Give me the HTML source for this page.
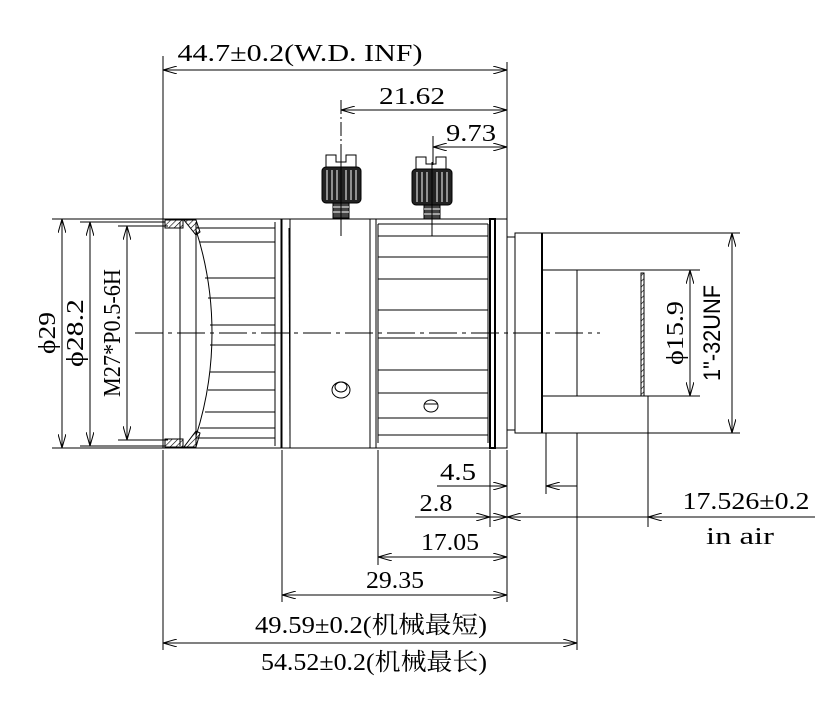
<!DOCTYPE html>
<html><head><meta charset="utf-8"><style>
html,body{margin:0;padding:0;background:#fff;}
svg{display:block;}
text{font-family:"Liberation Serif","Noto Serif CJK SC",serif;font-size:24px;fill:#000;}
</style></head><body>
<svg width="838" height="727" viewBox="0 0 838 727" xmlns="http://www.w3.org/2000/svg">
<defs>
<marker id="a" viewBox="0 0 14 8" refX="14" refY="4" markerWidth="14" markerHeight="8" orient="auto-start-reverse" markerUnits="userSpaceOnUse">
<path d="M0,0 L14,4 L0,8" fill="none" stroke="#000" stroke-width="1"/>
</marker>
<pattern id="h" width="4" height="4" patternUnits="userSpaceOnUse" patternTransform="rotate(45)">
<line x1="0" y1="0" x2="0" y2="4" stroke="#000" stroke-width="1.2"/>
</pattern>
</defs>
<g stroke="#000" stroke-width="1" fill="none">
<!-- top dims -->
<line x1="163" y1="56" x2="163" y2="225"/>
<line x1="507" y1="62" x2="507" y2="230"/>
<line x1="163" y1="70" x2="507" y2="70" marker-start="url(#a)" marker-end="url(#a)"/>
<line x1="341" y1="100" x2="341" y2="150" stroke-dasharray="14,3,2,3"/>
<line x1="341" y1="110" x2="507" y2="110" marker-start="url(#a)" marker-end="url(#a)"/>
<line x1="433" y1="136" x2="433" y2="165"/>
<line x1="433" y1="147" x2="507" y2="147" marker-start="url(#a)" marker-end="url(#a)"/>

<!-- left dims -->
<line x1="52" y1="219" x2="165" y2="219"/>
<line x1="52" y1="448" x2="165" y2="448"/>
<line x1="80" y1="222" x2="165" y2="222"/>
<line x1="80" y1="446" x2="165" y2="446"/>
<line x1="118" y1="226" x2="168" y2="226"/>
<line x1="118" y1="440" x2="168" y2="440"/>
<line x1="62" y1="219" x2="62" y2="448" marker-start="url(#a)" marker-end="url(#a)"/>
<line x1="90" y1="222" x2="90" y2="446" marker-start="url(#a)" marker-end="url(#a)"/>
<line x1="127" y1="226" x2="127" y2="440" marker-start="url(#a)" marker-end="url(#a)"/>

<!-- center line -->
<line x1="135" y1="333" x2="600" y2="333" stroke-dasharray="28,5,4,5"/>

<!-- front ring -->
<rect x="163" y="219" width="118" height="229"/>
<line x1="180" y1="222" x2="180" y2="446"/>
<line x1="196" y1="222" x2="196" y2="446"/>
<path d="M196,230 Q212,280 212,333 Q212,386 196,436"/>
<rect x="165" y="220" width="18" height="8" fill="url(#h)"/>
<rect x="165" y="439" width="18" height="8" fill="url(#h)"/>
<path d="M184,220 L196,220 L200,232 L196,235 Z" fill="url(#h)"/>
<path d="M184,447 L196,447 L200,433 L196,431 Z" fill="url(#h)"/>
<g>
<line x1="196" y1="228" x2="275" y2="228"/>
<line x1="200" y1="242" x2="275" y2="242"/>
<line x1="205" y1="278" x2="275" y2="278"/>
<line x1="208" y1="298" x2="275" y2="298"/>
<line x1="210" y1="325" x2="275" y2="325"/>
<line x1="210" y1="345" x2="275" y2="345"/>
<line x1="210" y1="372" x2="275" y2="372"/>
<line x1="208" y1="390" x2="275" y2="390"/>
<line x1="205" y1="412" x2="275" y2="412"/>
<line x1="200" y1="428" x2="275" y2="428"/>
<line x1="196" y1="438" x2="275" y2="438"/>
</g>
<line x1="275" y1="222" x2="275" y2="446"/>
<rect x="282" y="219" width="8" height="229"/>
<line x1="289" y1="228" x2="290" y2="438"/>
<rect x="290" y="219" width="80" height="229"/>
<ellipse cx="341" cy="390" rx="9" ry="8"/>
<ellipse cx="341" cy="387" rx="6" ry="5"/>
<rect x="370" y="219" width="6" height="229"/>
<!-- focus ring -->
<rect x="376" y="219" width="114" height="229"/>
<line x1="378" y1="224" x2="378" y2="443"/>
<line x1="488" y1="224" x2="488" y2="443"/>
<line x1="378" y1="224" x2="488" y2="224"/>
<line x1="378" y1="236" x2="488" y2="236"/>
<line x1="378" y1="257" x2="488" y2="257"/>
<line x1="378" y1="279" x2="488" y2="279"/>
<line x1="378" y1="310" x2="488" y2="310"/>
<line x1="378" y1="338" x2="488" y2="338"/>
<line x1="378" y1="370" x2="488" y2="370"/>
<line x1="378" y1="393" x2="488" y2="393"/>
<line x1="378" y1="418" x2="488" y2="418"/>
<line x1="378" y1="435" x2="488" y2="435"/>
<ellipse cx="431" cy="406" rx="7" ry="6"/>
<line x1="424" y1="404" x2="438" y2="404"/>
<rect x="490" y="219" width="5" height="229" stroke-width="2"/>
<rect x="495" y="219" width="12" height="229"/>
<!-- rear -->
<rect x="507" y="237" width="8" height="193"/>
<rect x="515" y="233" width="27" height="200"/>
<line x1="542" y1="233" x2="542" y2="433" stroke-width="2"/>
<line x1="542" y1="233" x2="740" y2="233"/>
<line x1="515" y1="433" x2="740" y2="433"/>
<line x1="542" y1="270" x2="700" y2="270"/>
<line x1="542" y1="396" x2="700" y2="396"/>
<line x1="577" y1="270" x2="577" y2="396"/>
<rect x="641" y="273" width="3" height="123" fill="url(#h)"/>
<line x1="641" y1="273" x2="641" y2="396"/>
<line x1="690" y1="270" x2="690" y2="396" marker-start="url(#a)" marker-end="url(#a)"/>
<line x1="732" y1="233" x2="732" y2="433" marker-start="url(#a)" marker-end="url(#a)"/>
<!-- screws -->
<path d="M326,167 V155 H336 V162 H346 V155 H356 V167"/>
<rect x="322" y="167" width="39" height="36" rx="4" fill="#222"/>
<rect x="333" y="203" width="16" height="15" fill="#444"/>
<path d="M416,169 V157 H426 V164 H436 V157 H446 V169"/>
<rect x="412" y="169" width="40" height="36" rx="4" fill="#222"/>
<rect x="424" y="205" width="16" height="14" fill="#444"/>
<g stroke="#fff" stroke-width="1">
<line x1="327" y1="170" x2="327" y2="200"/><line x1="332" y1="170" x2="332" y2="200"/><line x1="337" y1="170" x2="337" y2="200"/><line x1="346" y1="170" x2="346" y2="200"/><line x1="351" y1="170" x2="351" y2="200"/><line x1="356" y1="170" x2="356" y2="200"/>
<line x1="417" y1="172" x2="417" y2="202"/><line x1="422" y1="172" x2="422" y2="202"/><line x1="427" y1="172" x2="427" y2="202"/><line x1="437" y1="172" x2="437" y2="202"/><line x1="442" y1="172" x2="442" y2="202"/><line x1="447" y1="172" x2="447" y2="202"/>
<line x1="333" y1="207" x2="349" y2="207"/><line x1="333" y1="212" x2="349" y2="212"/>
<line x1="424" y1="209" x2="440" y2="209"/><line x1="424" y1="214" x2="440" y2="214"/>
</g>
<line x1="341" y1="150" x2="341" y2="236"/>
<line x1="432" y1="162" x2="432" y2="236"/>

<!-- bottom extension lines -->
<line x1="163" y1="450" x2="163" y2="650"/>
<line x1="282" y1="450" x2="282" y2="602"/>
<line x1="378" y1="450" x2="378" y2="565"/>
<line x1="490" y1="450" x2="490" y2="527"/>
<line x1="507" y1="450" x2="507" y2="602"/>
<line x1="577" y1="433" x2="577" y2="650"/>
<line x1="546" y1="433" x2="546" y2="494"/>
<line x1="648" y1="396" x2="648" y2="527"/>
<!-- 4.5 -->
<line x1="437" y1="486" x2="507" y2="486" marker-end="url(#a)"/>
<line x1="577" y1="486" x2="546" y2="486" marker-end="url(#a)"/>
<!-- 2.8 -->
<line x1="415" y1="517" x2="490" y2="517" marker-end="url(#a)"/>
<line x1="490" y1="517" x2="507" y2="517" marker-end="url(#a)"/>
<line x1="530" y1="517" x2="507" y2="517" marker-end="url(#a)"/>
<!-- 17.526 -->
<line x1="815" y1="517" x2="648" y2="517"/>
<line x1="680" y1="517" x2="648" y2="517" marker-end="url(#a)"/>
<line x1="648" y1="517" x2="507" y2="517"/>
<!-- 17.05 -->
<line x1="378" y1="557" x2="507" y2="557" marker-start="url(#a)" marker-end="url(#a)"/>
<!-- 29.35 -->
<line x1="282" y1="595" x2="507" y2="595" marker-start="url(#a)" marker-end="url(#a)"/>
<!-- 54.52 -->
<line x1="163" y1="643" x2="577" y2="643" marker-start="url(#a)" marker-end="url(#a)"/>
</g>

<!-- text -->
<text x="300" y="61" text-anchor="middle" textLength="245" lengthAdjust="spacingAndGlyphs">44.7±0.2(W.D. INF)</text>
<text x="412" y="104" text-anchor="middle" textLength="66" lengthAdjust="spacingAndGlyphs">21.62</text>
<text x="471" y="141" text-anchor="middle" textLength="50" lengthAdjust="spacingAndGlyphs">9.73</text>
<text transform="translate(55,333) rotate(-90)" text-anchor="middle" textLength="42" lengthAdjust="spacingAndGlyphs">ϕ29</text>
<text transform="translate(83,333) rotate(-90)" text-anchor="middle" textLength="68" lengthAdjust="spacingAndGlyphs">ϕ28.2</text>
<text transform="translate(120,333) rotate(-90)" text-anchor="middle" textLength="128" lengthAdjust="spacingAndGlyphs">M27*P0.5-6H</text>
<text transform="translate(683,333) rotate(-90)" text-anchor="middle" textLength="64" lengthAdjust="spacingAndGlyphs">ϕ15.9</text>
<text transform="translate(720,333) rotate(-90)" text-anchor="middle" style="font-family:'Liberation Sans',sans-serif" textLength="96" lengthAdjust="spacingAndGlyphs">1"-32UNF</text>
<text x="458" y="480" text-anchor="middle" textLength="36" lengthAdjust="spacingAndGlyphs">4.5</text>
<text x="436" y="511" text-anchor="middle" textLength="33" lengthAdjust="spacingAndGlyphs">2.8</text>
<text x="450" y="550" text-anchor="middle" textLength="58" lengthAdjust="spacingAndGlyphs">17.05</text>
<text x="395" y="588" text-anchor="middle" textLength="58" lengthAdjust="spacingAndGlyphs">29.35</text>
<text x="371" y="633" text-anchor="middle" textLength="232" lengthAdjust="spacingAndGlyphs">49.59±0.2(机械最短)</text>
<text x="374" y="670" text-anchor="middle" textLength="226" lengthAdjust="spacingAndGlyphs">54.52±0.2(机械最长)</text>
<text x="746" y="509" text-anchor="middle" textLength="127" lengthAdjust="spacingAndGlyphs">17.526±0.2</text>
<text x="740" y="544" text-anchor="middle" textLength="68" lengthAdjust="spacingAndGlyphs">in air</text>
</svg>
</body></html>
